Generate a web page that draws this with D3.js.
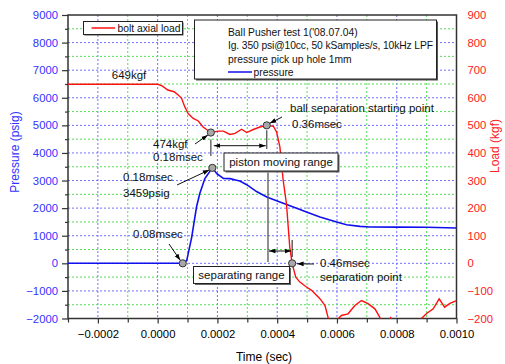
<!DOCTYPE html>
<html>
<head>
<meta charset="utf-8">
<script src="https://cdn.jsdelivr.net/npm/d3@7"></script>
<style>
  body { margin: 0; background: #fff; }
  svg { font-family: "Liberation Sans", Arial, sans-serif; }
</style>
</head>
<body>
<div id="chart"></div>
<script>
// bolt axial load (kgf), right axis
const loadTime = [-0.0003, 0.0000, 0.000015, 0.000034, 0.000055, 0.000069, 0.00008, 0.000091, 0.000102, 0.000119,
  0.000136, 0.000152, 0.000178, 0.000203, 0.00022, 0.000242, 0.000259, 0.000281, 0.000298, 0.00032,
  0.000342, 0.000365, 0.000387, 0.000398, 0.000409, 0.00042, 0.000431, 0.000442, 0.00045, 0.000462,
  0.000476, 0.000498, 0.000515, 0.000543, 0.00056, 0.00057, 0.000585, 0.000604, 0.000615, 0.000637,
  0.00066, 0.000682, 0.000704, 0.000727, 0.000743, 0.00076, 0.00078, 0.00079, 0.00083, 0.000875,
  0.000883, 0.0009, 0.000922, 0.000942, 0.00096, 0.000978, 0.001];
const loadValue = [649, 649, 643, 628, 622, 610, 598, 567, 543, 525,
  516, 494, 474, 479, 479, 467, 471, 486, 474, 485,
  494, 500, 497, 476, 422, 301, 216, 59, 0, -50,
  -68, -86, -98, -128, -153, -195, -245, -201, -189, -183,
  -153, -135, -146, -165, -195, -230, -197, -220, -260, -225,
  -200, -182, -165, -129, -159, -145, -135];

// pressure (psig), left axis
const pressTime = [-0.0003, 0.000084, 0.000097, 0.000114, 0.00013, 0.000141, 0.000158, 0.000183, 0.000198, 0.00022,
  0.000242, 0.000264, 0.000275, 0.000298, 0.000331, 0.000365, 0.000409, 0.000454, 0.000498, 0.000543,
  0.000599, 0.000632, 0.000677, 0.00071, 0.0008, 0.0009, 0.001];
const pressValue = [0, 0, 90, 952, 2040, 2527, 3072, 3459, 3250, 3080,
  3070, 3010, 2980, 2850, 2600, 2405, 2224, 2040, 1860, 1678,
  1497, 1400, 1340, 1315, 1310, 1305, 1280];

// marked points
const loadMarks = [[0.000178, 474], [0.000365, 500], [0.00045, 0]];
const pressMarks = [[0.000084, 0], [0.000183, 3459]];

const xTicks = [-0.0002, 0.0000, 0.0002, 0.0004, 0.0006, 0.0008, 0.0010];
const leftTicks = [-2000, -1000, 0, 1000, 2000, 3000, 4000, 5000, 6000, 7000, 8000, 9000];
const rightTicks = [-200, -100, 0, 100, 200, 300, 400, 500, 600, 700, 800, 900];

const infoLines = ["Ball Pusher test 1('08.07.04)", "Ig. 350 psi@10cc, 50 kSamples/s, 10kHz LPF", "pressure pick up hole 1mm"];

const width = 505, height = 364;
const margin = { top: 15, right: 48.5, bottom: 45.5, left: 68 };
const blue = '#3333ff', red = '#ff2020';

const svg = d3.select('#chart').append('svg')
  .attr('width', width).attr('height', height);

const defs = svg.append('defs');
defs.append('marker').attr('id', 'arr')
  .attr('viewBox', '0 0 10 10').attr('refX', 10).attr('refY', 5)
  .attr('markerWidth', 6.5).attr('markerHeight', 6.5).attr('orient', 'auto-start-reverse')
  .attr('markerUnits', 'userSpaceOnUse')
  .append('path').attr('d', 'M0,1.5L10,5L0,8.5z').attr('fill', '#000');
defs.append('clipPath').attr('id', 'plotclip').append('rect')
  .attr('x', margin.left).attr('y', margin.top)
  .attr('width', width - margin.left - margin.right)
  .attr('height', height - margin.top - margin.bottom);

const x = d3.scaleLinear().domain([-0.0003, 0.001]).range([margin.left, width - margin.right]);
const yL = d3.scaleLinear().domain([-2000, 9000]).range([height - margin.bottom, margin.top]);
const yR = d3.scaleLinear().domain([-200, 900]).range([height - margin.bottom, margin.top]);

// grid
const grid = svg.append('g');
d3.range(-2, 11).map(i => i * 0.0001).forEach((t, i) => {
  grid.append('line')
    .attr('x1', x(t)).attr('x2', x(t)).attr('y1', margin.top).attr('y2', height - margin.bottom)
    .attr('stroke', i % 2 === 0 ? '#7070ff' : '#55dd55')
    .attr('stroke-width', 1).attr('stroke-dasharray', '2,2');
});
d3.range(-3, 18).map(i => i * 500).forEach((v, i) => {
  grid.append('line')
    .attr('x1', margin.left).attr('x2', width - margin.right).attr('y1', yL(v)).attr('y2', yL(v))
    .attr('stroke', v % 1000 === 0 ? '#7070ff' : '#55dd55')
    .attr('stroke-width', 1).attr('stroke-dasharray', '2,2');
});

// frame
svg.append('rect')
  .attr('x', margin.left).attr('y', margin.top)
  .attr('width', width - margin.left - margin.right)
  .attr('height', height - margin.top - margin.bottom)
  .attr('fill', 'none').attr('stroke', '#333').attr('stroke-width', 1.5);

// axes
const xAxis = svg.append('g')
  .attr('transform', `translate(0,${height - margin.bottom})`)
  .call(d3.axisBottom(x).tickValues(xTicks).tickFormat(d3.format('.4f')).tickSize(5).tickPadding(6));
svg.append('g')
  .attr('transform', `translate(0,${height - margin.bottom})`)
  .call(d3.axisBottom(x).tickValues(d3.range(-3, 11, 2).map(i => i * 0.0001)).tickFormat('').tickSize(4));

const yAxisL = svg.append('g')
  .attr('transform', `translate(${margin.left},0)`)
  .call(d3.axisLeft(yL).tickValues(leftTicks).tickFormat(d3.format('d')).tickSize(6).tickPadding(4));
svg.append('g')
  .attr('transform', `translate(${margin.left},0)`)
  .call(d3.axisLeft(yL).tickValues(d3.range(-3, 18, 2).map(i => i * 500)).tickFormat('').tickSize(3));

const yAxisR = svg.append('g')
  .attr('transform', `translate(${width - margin.right},0)`)
  .call(d3.axisRight(yR).tickValues(rightTicks).tickFormat(d3.format('d')).tickSize(0).tickPadding(11));

svg.selectAll('.domain').remove();
svg.selectAll('.tick line').attr('stroke', '#333').attr('stroke-width', 1.2);
svg.selectAll('.tick text').attr('font-size', 11.3).attr('font-family', '"Liberation Sans", Arial, sans-serif');
xAxis.selectAll('.tick text').attr('fill', '#000');
yAxisL.selectAll('.tick text').attr('fill', blue);
yAxisR.selectAll('.tick text').attr('fill', red);

// axis titles
svg.append('text').attr('transform', 'translate(19,152) rotate(-90)')
  .attr('text-anchor', 'middle').attr('font-size', 12).attr('fill', blue).text('Pressure (psig)');
svg.append('text').attr('transform', 'translate(499,146) rotate(-90)')
  .attr('text-anchor', 'middle').attr('font-size', 12).attr('fill', red).text('Load (kgf)');
svg.append('text').attr('x', 264).attr('y', 361)
  .attr('text-anchor', 'middle').attr('font-size', 12).attr('fill', '#000').text('Time (sec)');

// curves
const plot = svg.append('g').attr('clip-path', 'url(#plotclip)');
const loadLine = d3.line().x(d => x(d[0])).y(d => yR(d[1]));
const pressLine = d3.line().x(d => x(d[0])).y(d => yL(d[1]));
plot.append('path').datum(pressTime.map((t, i) => [t, pressValue[i]]))
  .attr('d', pressLine).attr('fill', 'none').attr('stroke', '#1010ee').attr('stroke-width', 1.6);
plot.append('path').datum(loadTime.map((t, i) => [t, loadValue[i]]))
  .attr('d', loadLine).attr('fill', 'none').attr('stroke', '#ff1010').attr('stroke-width', 1.4);

// annotations
const ann = svg.append('g').attr('font-size', 11.5).attr('fill', '#111');
const txt = (px, py, s, anchor) => ann.append('text').attr('x', px).attr('y', py)
  .attr('text-anchor', anchor || 'start').text(s);
const seg = (x1, y1, x2, y2, opts) => {
  const l = ann.append('line').attr('x1', x1).attr('y1', y1).attr('x2', x2).attr('y2', y2)
    .attr('stroke', (opts && opts.color) || '#111').attr('stroke-width', (opts && opts.w) || 1);
  if (opts && opts.end) l.attr('marker-end', 'url(#arr)');
  if (opts && opts.start) l.attr('marker-start', 'url(#arr)');
  return l;
};
const box = (x0, y0, w, h) => {
  ann.append('rect').attr('x', x0 + 1.5).attr('y', y0 + 1.5).attr('width', w).attr('height', h).attr('fill', '#666');
  ann.append('rect').attr('x', x0).attr('y', y0).attr('width', w).attr('height', h)
    .attr('fill', '#fff').attr('stroke', '#222').attr('stroke-width', 1);
};

txt(129, 79, '649kgf', 'middle');

// 474kgf @ 0.18 msec
const m1 = loadMarks[0];
txt(153, 148, '474kgf');
txt(153, 161, '0.18msec');
seg(195, 144, x(m1[0]) - 3, yR(m1[1]) + 2.5, { end: true });

// pressure peak
const p1 = pressMarks[1];
txt(123, 181, '0.18msec');
txt(123, 197, '3459psig');
seg(177, 185, x(p1[0]) - 3, yL(p1[1]) + 2, { end: true });

// pressure start
const p0 = pressMarks[0];
txt(133, 238, '0.08msec');
seg(169, 244, x(p0[0]) - 2.5, yL(p0[1]) - 3, { end: true });

// ball separation starting point
const m2 = loadMarks[1];
txt(290, 112, 'ball separation starting point');
txt(292, 128, '0.36msec');
seg(282, 117, x(m2[0]) + 3, yR(m2[1]) - 2, { end: true });

// separation point
const m3 = loadMarks[2];
txt(320, 267, '0.46msec');
txt(320, 281, 'separation point');
seg(314, 264, x(m3[0]) + 5, yR(m3[1]) + 0.5, { end: true });

// piston moving range
seg(x(m1[0]), yR(m1[1]) + 7, x(m1[0]), 156, { color: '#555', w: 1.3 });
seg(x(m2[0]), yR(m2[1]) + 5, x(m2[0]), 149, { color: '#555', w: 1.3 });
seg(x(m1[0]) + 3, 145.7, x(m2[0]) - 1, 145.7, { start: true, end: true });
box(224, 153, 114, 18);
txt(281, 166, 'piston moving range', 'middle');

// separating range
seg(268, 172.5, 268, 262, { color: '#555', w: 1.3 });
seg(x(m3[0]), 240, x(m3[0]), 257, { color: '#111', w: 1 });
seg(269, 251, x(m3[0]) - 1, 251, { start: true, end: true });
box(193.5, 266.5, 96, 17);
txt(241.5, 279, 'separating range', 'middle');

// markers
const dots = svg.append('g');
loadMarks.forEach(d => dots.append('circle').attr('cx', x(d[0])).attr('cy', yR(d[1])).attr('r', 3.6)
  .attr('fill', '#a8a8a8').attr('stroke', '#333').attr('stroke-width', 1));
pressMarks.forEach(d => dots.append('circle').attr('cx', x(d[0])).attr('cy', yL(d[1])).attr('r', 3.6)
  .attr('fill', '#a8a8a8').attr('stroke', '#333').attr('stroke-width', 1));

// legend: bolt axial load
const lg = svg.append('g').attr('font-size', 10.3).attr('fill', '#111');
lg.append('rect').attr('x', 84.5).attr('y', 22.5).attr('width', 99).attr('height', 13).attr('fill', '#555');
lg.append('rect').attr('x', 83.5).attr('y', 21.5).attr('width', 99).attr('height', 13)
  .attr('fill', '#fff').attr('stroke', '#222').attr('stroke-width', 1);
lg.append('line').attr('x1', 91.5).attr('x2', 115).attr('y1', 28).attr('y2', 28)
  .attr('stroke', '#ff1010').attr('stroke-width', 1.5);
lg.append('text').attr('x', 117.5).attr('y', 32).text('bolt axial load');

// info box
lg.append('rect').attr('x', 196).attr('y', 21.5).attr('width', 242).attr('height', 59).attr('fill', '#555');
lg.append('rect').attr('x', 194.5).attr('y', 20).attr('width', 242).attr('height', 59)
  .attr('fill', '#fff').attr('stroke', '#222').attr('stroke-width', 1);
infoLines.forEach((s, i) => lg.append('text').attr('x', 228).attr('y', 36 + i * 13.3)
  .attr('textLength', i === 1 ? 205 : null).text(s));
lg.append('line').attr('x1', 228).attr('x2', 252).attr('y1', 72).attr('y2', 72)
  .attr('stroke', '#1010ee').attr('stroke-width', 1.5);
lg.append('text').attr('x', 253.5).attr('y', 76).text('pressure');
</script>
</body>
</html>
